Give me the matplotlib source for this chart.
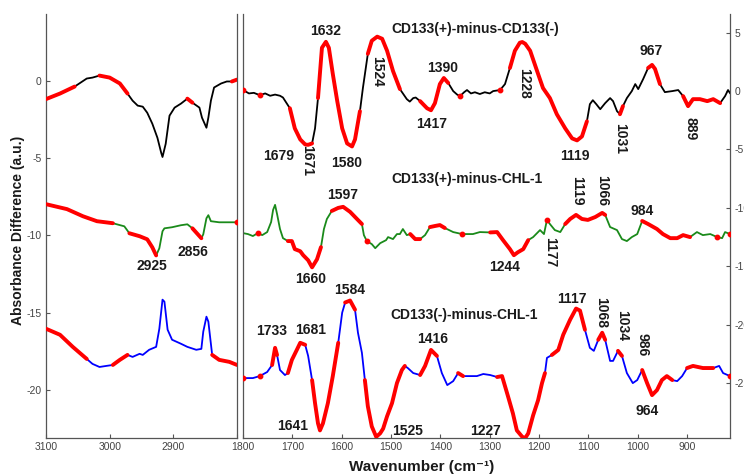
import numpy as np
import matplotlib
matplotlib.use("Agg")
import matplotlib.pyplot as plt

plt.rcParams['font.family'] = ['Liberation Sans', 'DejaVu Sans']
plt.rcParams['axes.unicode_minus'] = False

# ─── Data: 3100-2800 cm-1 (left panel) ──────────────────────────────────────
wn_ch_top = [3100, 3078, 3055, 3036, 3027, 3016, 3000, 2984, 2972, 2964, 2956, 2948,
             2941, 2933, 2925, 2919, 2917, 2912, 2906, 2898, 2888, 2878, 2870, 2859,
             2855, 2848, 2845, 2841, 2836, 2825, 2816, 2808, 2800]
ab_ch_top = [-1.2, -0.84, -0.39, 0.13, 0.19, 0.32, 0.19, -0.19, -0.84, -1.3, -1.62, -1.69,
             -2.08, -2.79, -3.7, -4.68, -4.94, -4.09, -2.27, -1.75, -1.49, -1.17, -1.43, -1.75,
             -2.4, -3.05, -2.4, -1.3, -0.45, -0.19, -0.06, -0.06, 0.06]
red_ch_top = [(3100, 3055), (3023, 2972), (2878, 2864), (2812, 2800)]

wn_ch_mid = [3100, 3067, 3042, 3020, 2995, 2977, 2969, 2953, 2941, 2933, 2927, 2922,
             2917, 2914, 2902, 2888, 2878, 2870, 2863, 2856, 2853, 2848, 2845, 2841,
             2828, 2808, 2800]
ab_ch_mid = [-7.99, -8.31, -8.77, -9.09, -9.22, -9.42, -9.87, -10.06, -10.26, -10.78, -11.3, -10.84,
             -9.74, -9.55, -9.48, -9.35, -9.29, -9.55, -9.87, -10.19, -9.94, -8.9, -8.7, -9.09,
             -9.16, -9.16, -9.16]
red_ch_mid = [(3100, 3020), (2997, 2993), (2975, 2925), (2870, 2856), (2802, 2800)]

wn_ch_bot = [3100, 3078, 3058, 3036, 3027, 3016, 3005, 2995, 2984, 2972, 2964, 2953,
             2948, 2938, 2927, 2922, 2917, 2914, 2909, 2902, 2888, 2878, 2864, 2856,
             2853, 2848, 2845, 2839, 2828, 2812, 2800]
ab_ch_bot = [-16.04, -16.43, -17.21, -17.99, -18.31, -18.51, -18.44, -18.38, -18.05, -17.73, -17.86, -17.66,
             -17.73, -17.4, -17.21, -16.04, -14.16, -14.29, -16.1, -16.75, -17.01, -17.21, -17.4, -17.34,
             -16.23, -15.26, -15.58, -17.73, -18.05, -18.18, -18.38]
red_ch_bot = [(3100, 3035), (2995, 2970), (2840, 2800)]

# ─── Data: 1800-813 cm-1 (right panel) ──────────────────────────────────────
wn_fp_top = [1800, 1788, 1778, 1766, 1755, 1745, 1735, 1725, 1719, 1705, 1695, 1684,
             1674, 1668, 1660, 1654, 1648, 1640, 1632, 1626, 1618, 1609, 1599, 1589,
             1579, 1573, 1563, 1557, 1547, 1539, 1528, 1518, 1508, 1496, 1482, 1468,
             1462, 1455, 1450, 1441, 1427, 1419, 1411, 1401, 1393, 1384, 1374, 1366,
             1360, 1352, 1346, 1338, 1330, 1320, 1310, 1300, 1293, 1279, 1269, 1259,
             1249, 1239, 1234, 1228, 1218, 1204, 1192, 1178, 1164, 1147, 1133, 1123,
             1113, 1103, 1097, 1091, 1084, 1076, 1066, 1056, 1050, 1042, 1036, 1030,
             1022, 1012, 1005, 999, 989, 979, 971, 965, 955, 945, 930, 918,
             908, 898, 888, 874, 859, 847, 833, 823, 817, 813]
ab_fp_top = [0.1, -0.2, -0.15, -0.35, -0.2, -0.4, -0.3, -0.4, -0.55, -1.47, -3.19, -4.14,
             -4.57, -4.6, -4.48, -3.19, -0.6, 3.71, 4.22, 3.71, 1.47, -0.86, -3.19, -4.48,
             -4.74, -4.14, -1.72, 0.26, 3.19, 4.31, 4.66, 4.48, 3.45, 1.72, 0.17, -0.69,
             -0.9, -0.6, -0.55, -0.86, -1.47, -1.64, -1.03, 0.6, 1.12, 0.69, 0.0, -0.3,
             -0.43, -0.1, 0.09, -0.2, -0.1, -0.25, -0.1, -0.2, 0.0, 0.09, 0.6, 1.98,
             3.45, 4.14, 4.2, 4.05, 3.45, 1.72, 0.26, -0.6, -1.98, -3.19, -4.05, -4.22,
             -3.88, -2.59, -1.12, -0.78, -1.12, -1.55, -1.03, -0.6, -0.86, -1.72, -1.98, -1.29,
             -0.6, 0.0, 0.6, 0.17, 1.03, 1.98, 2.24, 1.9, 0.6, -0.09, 0.0, 0.09,
             -0.43, -1.29, -0.69, -0.69, -0.86, -0.69, -1.03, -0.43, 0.09, -0.17]
red_fp_top = [(1800, 1795), (1770, 1763), (1715, 1658), (1648, 1609), (1603, 1559),
              (1553, 1478), (1441, 1411), (1401, 1384), (1362, 1358), (1285, 1279),
              (1259, 1188), (1178, 1103), (1040, 1030), (985, 949), (908, 827)]

wn_fp_mid = [1800, 1790, 1780, 1770, 1761, 1751, 1743, 1739, 1735, 1731, 1725, 1719,
             1709, 1701, 1695, 1684, 1678, 1668, 1660, 1650, 1642, 1636, 1630, 1620,
             1607, 1597, 1583, 1569, 1559, 1555, 1549, 1539, 1532, 1522, 1510, 1506,
             1496, 1488, 1482, 1476, 1468, 1461, 1451, 1441, 1431, 1421, 1411, 1401,
             1391, 1374, 1356, 1334, 1320, 1299, 1285, 1273, 1259, 1251, 1243, 1232,
             1222, 1212, 1198, 1190, 1184, 1178, 1168, 1157, 1147, 1137, 1125, 1113,
             1101, 1086, 1072, 1066, 1056, 1042, 1032, 1022, 1012, 1001, 991, 979,
             961, 949, 934, 920, 908, 894, 880, 868, 853, 839, 829, 823, 813]
ab_fp_mid = [-12.16, -12.24, -12.41, -12.16, -12.33, -12.07, -11.21, -10.17, -9.74, -10.52, -11.81, -12.59,
             -12.84, -12.84, -13.53, -13.71, -14.05, -14.48, -15.09, -14.4, -13.36, -11.81, -10.95, -10.26,
             -10.0, -9.91, -10.34, -10.95, -11.38, -12.33, -12.84, -13.1, -13.45, -13.02, -12.76, -12.5,
             -12.67, -12.24, -12.24, -11.81, -12.33, -12.24, -12.67, -12.67, -12.33, -11.64, -11.55, -11.47,
             -11.72, -12.07, -12.24, -12.24, -12.07, -12.1, -12.07, -12.76, -13.53, -14.05, -13.8, -13.53,
             -12.76, -12.5, -11.9, -12.24, -11.03, -11.38, -11.9, -12.07, -11.38, -10.95, -10.6, -10.95,
             -11.03, -10.78, -10.43, -10.6, -11.64, -11.9, -12.67, -12.84, -12.5, -12.24, -11.12, -11.38,
             -11.81, -12.24, -12.59, -12.59, -12.33, -12.5, -12.07, -12.33, -12.24, -12.5, -12.59, -12.07, -12.24]
red_fp_mid = [(1772, 1768), (1711, 1640), (1628, 1557), (1553, 1545), (1465, 1437),
              (1425, 1391), (1358, 1354), (1299, 1222), (1186, 1182), (1153, 1066),
              (999, 949), (940, 894), (840, 836), (815, 810)]

wn_fp_bot = [1800, 1780, 1766, 1751, 1741, 1735, 1731, 1725, 1715, 1709, 1701, 1691,
             1684, 1674, 1668, 1660, 1654, 1648, 1644, 1638, 1628, 1618, 1607, 1599,
             1593, 1583, 1573, 1567, 1559, 1553, 1547, 1539, 1530, 1522, 1516, 1508,
             1498, 1488, 1478, 1472, 1466, 1455, 1441, 1431, 1419, 1407, 1397, 1386,
             1374, 1364, 1354, 1340, 1326, 1313, 1299, 1285, 1275, 1269, 1263, 1253,
             1245, 1234, 1228, 1222, 1212, 1202, 1194, 1188, 1184, 1174, 1161, 1151,
             1137, 1125, 1117, 1107, 1097, 1089, 1080, 1072, 1066, 1056, 1050, 1040,
             1032, 1022, 1010, 1001, 991, 981, 971, 961, 951, 941, 930, 920,
             910, 900, 888, 868, 847, 835, 827, 813]
ab_fp_bot = [-24.57, -24.57, -24.4, -24.05, -23.45, -21.98, -22.59, -23.88, -24.31, -24.14, -23.02, -22.16,
             -21.55, -21.72, -22.67, -24.74, -26.72, -28.45, -29.05, -28.45, -26.72, -24.4, -21.55, -18.97,
             -18.1, -17.93, -18.71, -20.69, -22.41, -24.74, -26.98, -28.71, -29.6, -29.3, -28.9, -27.84,
             -26.72, -25.0, -23.88, -23.53, -23.71, -24.14, -24.31, -23.53, -22.16, -22.67, -24.14, -25.17,
             -24.83, -24.14, -24.4, -24.4, -24.4, -24.22, -24.31, -24.48, -24.4, -25.26, -26.12, -27.59,
             -29.05, -29.6, -29.7, -29.31, -27.76, -26.47, -25.0, -24.14, -22.84, -22.59, -22.16, -20.86,
             -19.57, -18.62, -18.79, -20.43, -21.98, -22.24, -21.29, -20.69, -21.29, -23.1, -23.1, -22.24,
             -22.67, -24.14, -25.0, -24.74, -23.88, -25.0, -26.03, -25.6, -24.74, -24.4, -24.74, -24.83,
             -24.4, -23.71, -23.53, -23.71, -23.71, -23.53, -24.14, -24.4]
red_fp_bot = [(1800, 1796), (1770, 1762), (1745, 1730), (1710, 1670), (1660, 1606),
              (1593, 1573), (1553, 1472), (1441, 1401), (1366, 1354), (1287, 1281),
              (1279, 1188), (1182, 1101), (1083, 1060), (1046, 1026), (995, 930),
              (908, 837), (818, 808)]

spectrum_titles = ["CD133(+)-minus-CD133(-)", "CD133(+)-minus-CHL-1", "CD133(-)-minus-CHL-1"]

# ─── Peak labels: (text, x, y, rotation) ────────────────────────────────────
labels_left = [("2925", 2933, -12.0, 0), ("2856", 2869, -11.1, 0)]
labels_right = [
    ("1632", 1632, 5.17, 0), ("1524", 1528, 1.72, 270), ("1390", 1395, 1.98, 0),
    ("1417", 1417, -2.84, 0), ("1679", 1727, -5.52, 0), ("1671", 1670, -5.95, 270),
    ("1580", 1589, -6.12, 0), ("1228", 1230, 0.69, 270), ("967", 973, 3.45, 0),
    ("1119", 1127, -5.52, 0), ("1031", 1036, -4.05, 270), ("889", 894, -3.19, 270),
    ("1597", 1599, -8.88, 0), ("1660", 1662, -16.12, 0), ("1119", 1123, -8.53, 270),
    ("1066", 1072, -8.53, 270), ("984", 991, -10.26, 0), ("1244", 1269, -15.09, 0),
    ("1177", 1178, -13.79, 270),
    ("1733", 1741, -20.52, 0), ("1681", 1662, -20.43, 0), ("1584", 1583, -17.07, 0),
    ("1416", 1415, -21.21, 0), ("1641", 1699, -28.71, 0), ("1525", 1466, -29.14, 0),
    ("1227", 1309, -29.14, 0), ("1117", 1133, -17.84, 0), ("1068", 1074, -18.97, 270),
    ("1034", 1032, -20.09, 270), ("986", 991, -21.72, 270), ("964", 981, -27.41, 0),
]
title_pos = [(1500, 5.34), (1500, -7.5), (1502, -19.14)]


def draw_spectrum(ax, wn, ab, color, red_ranges):
    wn = np.array(wn, dtype=float)
    ab = np.array(ab, dtype=float)
    ax.plot(wn, ab, color=color, lw=1.3, zorder=2)
    mask = np.zeros(len(wn), dtype=bool)
    for a, b in red_ranges:
        mask |= (wn >= min(a, b)) & (wn <= max(a, b))
    ax.plot(wn, np.where(mask, ab, np.nan), color='#ff0000', lw=2.8,
            solid_capstyle='round', zorder=3)
    # single highlighted points show up as dots
    prev = np.r_[False, mask[:-1]]
    nxt = np.r_[mask[1:], False]
    lone = mask & ~prev & ~nxt
    ax.plot(wn[lone], ab[lone], 'o', color='#ff0000', ms=3.2, zorder=3)


def style_axes(ax):
    ax.spines['top'].set_visible(False)
    for s in ['left', 'right', 'bottom']:
        ax.spines[s].set_color('#555555')
        ax.spines[s].set_linewidth(0.9)
    ax.tick_params(labelsize=7.5, labelcolor='#444444', colors='#555555',
                   length=3, width=0.8, direction='in', pad=3)


# ─── Figure ──────────────────────────────────────────────────────────────────
fig = plt.figure(figsize=(7.44, 4.75), dpi=100)
axL = fig.add_axes([46 / 744, 37 / 475, 191 / 744, 424 / 475])
axR = fig.add_axes([243 / 744, 37 / 475, 487 / 744, 424 / 475])

draw_spectrum(axL, wn_ch_top, ab_ch_top, '#000000', red_ch_top)
draw_spectrum(axL, wn_ch_mid, ab_ch_mid, '#1a8a1a', red_ch_mid)
draw_spectrum(axL, wn_ch_bot, ab_ch_bot, '#0000ff', red_ch_bot)

draw_spectrum(axR, wn_fp_top, ab_fp_top, '#000000', red_fp_top)
draw_spectrum(axR, wn_fp_mid, ab_fp_mid, '#1a8a1a', red_fp_mid)
draw_spectrum(axR, wn_fp_bot, ab_fp_bot, '#0000ff', red_fp_bot)

axL.set_xlim(3100, 2800)
axL.set_ylim(-23.1, 4.3)
axL.set_xticks([3100, 3000, 2900, 2800])
axL.set_xticklabels(['3100', '3000', '2900', ''])
axL.set_yticks([0, -5, -10, -15, -20])
style_axes(axL)

axR.set_xlim(1800, 813)
axR.set_ylim(-29.7, 6.6)
axR.set_xticks([1800, 1700, 1600, 1500, 1400, 1300, 1200, 1100, 1000, 900])
axR.set_yticks([5, 0, -5, -10, -15, -20, -25])
axR.yaxis.tick_right()
style_axes(axR)

for txt, x, y, rot in labels_left:
    axL.text(x, y, txt, ha='center', va='center', rotation=rot,
             fontsize=10, fontweight='bold', color='#1a1a1a')
for txt, x, y, rot in labels_right:
    axR.text(x, y, txt, ha='center', va='center', rotation=rot,
             fontsize=10, fontweight='bold', color='#1a1a1a')
for title, (x, y) in zip(spectrum_titles, title_pos):
    axR.text(x, y, title, ha='left', va='center', fontsize=10,
             fontweight='bold', color='#1a1a1a')

fig.text(18 / 744, 1 - 230 / 475, 'Absorbance Difference (a.u.)', rotation=90,
         ha='center', va='center', fontsize=10, fontweight='bold', color='#1a1a1a')
fig.text(422 / 744, 1 - 467 / 475, 'Wavenumber (cm\u207b\u00b9)',
         ha='center', va='center', fontsize=11, fontweight='bold', color='#1a1a1a')

plt.savefig('out.png', dpi=100)
plt.close()
